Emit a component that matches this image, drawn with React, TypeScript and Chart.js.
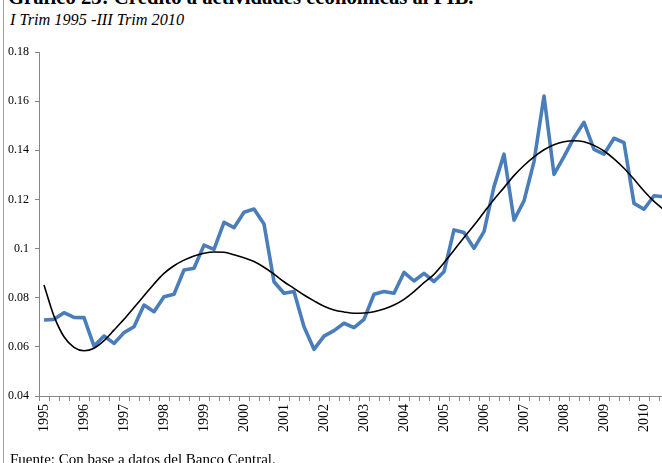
import React, { useEffect, useRef } from "react";
import { Chart, registerables } from "chart.js";

Chart.register(...registerables);

const years = [1995, 1996, 1997, 1998, 1999, 2000, 2001, 2002, 2003, 2004, 2005, 2006, 2007, 2008, 2009, 2010];
const quarterNames = ["I", "II", "III", "IV"];
const categories: string[] = years.flatMap((y) => quarterNames.map((q) => `${q} Trim ${y}`)).slice(0, 63);
const yearTickLabels = years.map(String);

const creditRatio = [
  0.0709, 0.0712, 0.0739, 0.0720, 0.0719, 0.0603, 0.0644, 0.0614,
  0.0658, 0.0682, 0.0770, 0.0743, 0.0804, 0.0814, 0.0913, 0.0920,
  0.1014, 0.0997, 0.1107, 0.1085, 0.1148, 0.1161, 0.1100, 0.0865,
  0.0818, 0.0825, 0.0682, 0.0590, 0.0644, 0.0666, 0.0696, 0.0678,
  0.0712, 0.0814, 0.0825, 0.0818, 0.0903, 0.0868, 0.0899, 0.0866,
  0.0906, 0.1076, 0.1065, 0.1001, 0.1069, 0.1252, 0.1384, 0.1116,
  0.1194, 0.1354, 0.1621, 0.1302, 0.1374, 0.1451, 0.1514, 0.1404,
  0.1384, 0.1449, 0.1431, 0.1184, 0.1160, 0.1215, 0.1211,
];

const trendLine = [
  0.0852, 0.0725, 0.0641, 0.0598, 0.0584, 0.0594, 0.0625, 0.0668,
  0.0712, 0.0760, 0.0808, 0.0856, 0.0899, 0.0930, 0.0953, 0.0970,
  0.0981, 0.0986, 0.0985, 0.0975, 0.0963, 0.0947, 0.0924, 0.0896,
  0.0865, 0.0838, 0.0811, 0.0787, 0.0765, 0.0750, 0.0742, 0.0737,
  0.0738, 0.0743, 0.0754, 0.0770, 0.0793, 0.0825, 0.0861, 0.0895,
  0.0942, 0.0993, 0.1045, 0.1095, 0.1148, 0.1200, 0.1248, 0.1297,
  0.1338, 0.1373, 0.1402, 0.1423, 0.1435, 0.1439, 0.1435, 0.1420,
  0.1397, 0.1365, 0.1327, 0.1282, 0.1234, 0.1192, 0.1158,
];

const yMin = 0.04;
const yMax = 0.18;
const yStep = 0.02;

const title = "Gráfico 23: Crédito a actividades económicas al PIB.";
const subtitle = "I Trim 1995 -III Trim 2010";
const source = "Fuente: Con base a datos del Banco Central.";

const FONT = '"Liberation Serif", "Times New Roman", serif';

export default function App() {
  const ref = useRef<HTMLCanvasElement>(null);

  useEffect(() => {
    if (!ref.current) return;
    const chart = new Chart(ref.current, {
      type: "line",
      data: {
        labels: categories,
        datasets: [
          {
            label: "Tendencia",
            data: trendLine,
            borderColor: "#000000",
            borderWidth: 1.6,
            pointRadius: 0,
            cubicInterpolationMode: "monotone",
            fill: false,
            order: 0,
          },
          {
            label: "Crédito / PIB",
            data: creditRatio,
            borderColor: "#4a7ebb",
            borderWidth: 3.6,
            pointRadius: 0,
            tension: 0,
            borderJoinStyle: "round",
            fill: false,
            order: 1,
          },
        ],
      },
      options: {
        responsive: false,
        animation: false,
        devicePixelRatio: 1,
        layout: { padding: { top: 52, right: 0, bottom: 0, left: 0 } },
        plugins: {
          legend: { display: false },
          tooltip: { enabled: false },
          title: { display: false },
        },
        scales: {
          x: {
            type: "category",
            offset: true,
            afterFit: (scale: any) => {
              scale.height = 67;
              scale.paddingLeft = 0;
              scale.paddingRight = 0;
            },
            grid: {
              offset: true,
              drawOnChartArea: false,
              drawTicks: true,
              tickLength: 5,
              color: "#868686",
            },
            border: { color: "#868686", width: 1 },
            ticks: {
              autoSkip: false,
              maxRotation: 90,
              minRotation: 90,
              padding: 3,
              color: "#000000",
              font: { family: FONT, size: 14 },
              callback: (_v: any, idx: number) => (idx % 4 === 0 ? yearTickLabels[idx / 4] : ""),
            },
          },
          y: {
            min: yMin,
            max: yMax,
            afterFit: (scale: any) => {
              scale.width = 39;
            },
            grid: {
              drawOnChartArea: false,
              drawTicks: true,
              tickLength: 4,
              color: "#868686",
            },
            border: { color: "#868686", width: 1 },
            ticks: {
              stepSize: yStep,
              padding: 6,
              color: "#000000",
              font: { family: FONT, size: 12 },
              callback: (v: any) => String(Number(Number(v).toFixed(2))),
            },
          },
        },
      },
    });
    return () => chart.destroy();
  }, []);

  return (
    <div
      style={{
        position: "fixed",
        left: 0,
        top: 0,
        width: 662,
        height: 463,
        overflow: "hidden",
        background: "#ffffff",
      }}
    >
      <div
        style={{
          position: "absolute",
          left: 3,
          top: 0,
          width: 0,
          height: 463,
          borderLeft: "1px solid #a0a0a0",
        }}
      />
      <div
        style={{
          position: "absolute",
          left: 8,
          top: -13.5,
          fontFamily: FONT,
          fontWeight: "bold",
          fontSize: 20.7,
          lineHeight: "20.7px",
          whiteSpace: "nowrap",
          color: "#000",
        }}
      >
        {title}
      </div>
      <div
        style={{
          position: "absolute",
          left: 10,
          top: 11.5,
          fontFamily: FONT,
          fontStyle: "italic",
          fontSize: 16.3,
          lineHeight: "16.3px",
          whiteSpace: "nowrap",
          color: "#000",
        }}
      >
        {subtitle}
      </div>
      <canvas
        ref={ref}
        width={669}
        height={463}
        style={{ position: "absolute", left: 0, top: 0, width: 669, height: 463 }}
      />
      <div
        style={{
          position: "absolute",
          left: 10,
          top: 452,
          fontFamily: FONT,
          fontSize: 15,
          lineHeight: "15px",
          whiteSpace: "nowrap",
          color: "#000",
        }}
      >
        {source}
      </div>
    </div>
  );
}
